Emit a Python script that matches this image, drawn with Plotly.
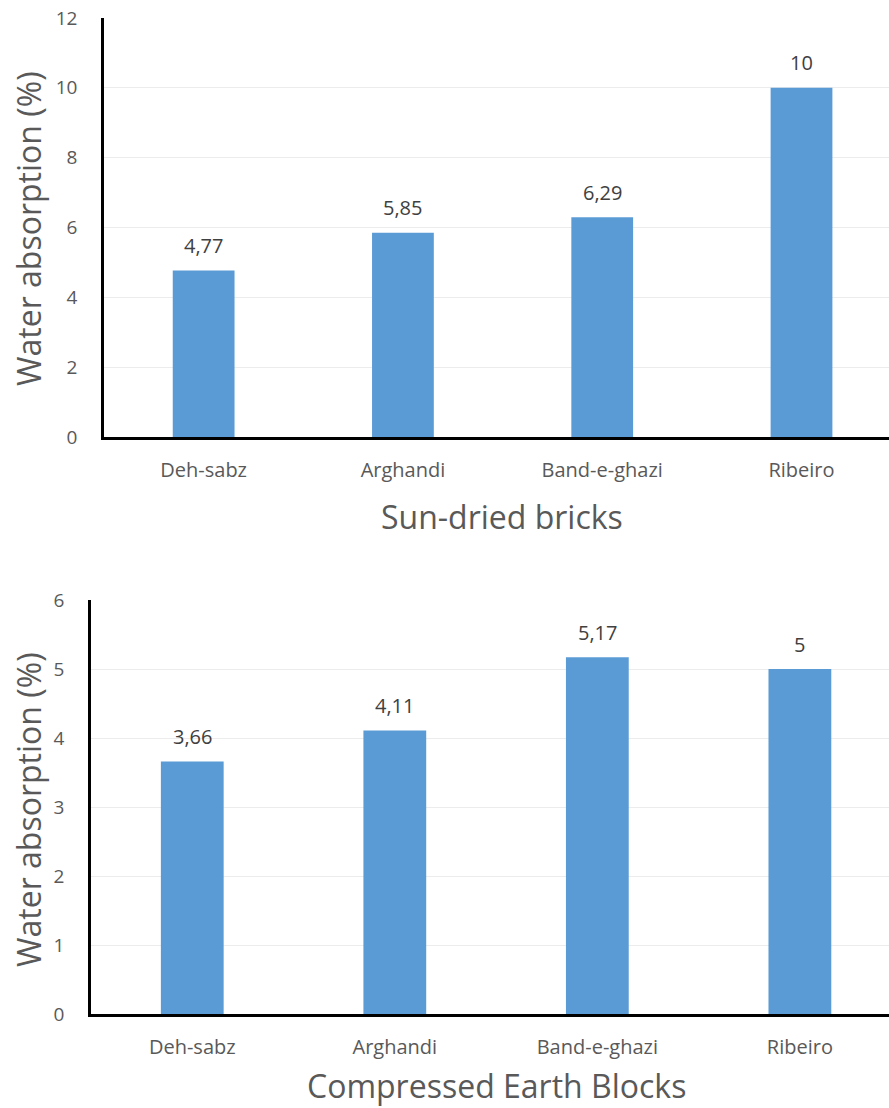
import plotly.graph_objects as go
from plotly.subplots import make_subplots

categories = ["Deh-sabz", "Arghandi", "Band-e-ghazi", "Ribeiro"]
sun_dried = [4.77, 5.85, 6.29, 10]
ceb = [3.66, 4.11, 5.17, 5]
y_title = "Water absorption (%)"
top_title = "Sun-dried bricks"
bottom_title = "Compressed Earth Blocks"

W, H = 889, 1108
BAR = "#5B9BD5"
FONT = "Open Sans"

def fmt(v):
    return f"{v:g}".replace(".", ",")

fig = make_subplots(rows=2, cols=1)
fig.add_trace(go.Bar(x=categories, y=sun_dried, marker_color=BAR, width=0.31,
                     marker_line_width=0), row=1, col=1)
fig.add_trace(go.Bar(x=categories, y=ceb, marker_color=BAR, width=0.31,
                     marker_line_width=0), row=2, col=1)

for xr, yr, vals in (("x", "y", sun_dried), ("x2", "y2", ceb)):
    for c, v in zip(categories, vals):
        fig.add_annotation(x=c, y=v, xref=xr, yref=yr, text=fmt(v), showarrow=False,
                           xanchor="center", yanchor="middle", yshift=25,
                           font=dict(size=20, color="#404040", family=FONT))

def py(p):
    return 1 - p / H

common_x = dict(showline=True, linecolor="black", linewidth=2.5, showgrid=False,
                tickfont=dict(size=20, color="#595959", family=FONT), ticks="",
                ticklabelstandoff=13, automargin=False, fixedrange=True)
common_y = dict(showline=True, linecolor="black", linewidth=2.5, showgrid=True,
                gridcolor="#ececec", gridwidth=1, zeroline=False,
                tickfont=dict(size=19, color="#595959", family=FONT), ticks="",
                ticklabelstandoff=20, automargin=False, fixedrange=True)

fig.update_layout(
    xaxis=dict(domain=[104 / W, 1], range=[-0.5, 3.439], **common_x),
    yaxis=dict(domain=[py(437), py(18)], range=[0, 12], dtick=2, **common_y),
    xaxis2=dict(domain=[91 / W, 1], range=[-0.5, 3.44], **common_x),
    yaxis2=dict(domain=[py(1014), py(600)], range=[0, 6], dtick=1, **common_y),
)

annots = [
    dict(text=y_title, x=28 / W, y=py(229), textangle=-90),
    dict(text=top_title, x=502 / W, y=py(516), textangle=0),
    dict(text=y_title, x=28 / W, y=py(810), textangle=-90),
    dict(text=bottom_title, x=496 / W, y=py(1085), textangle=0),
]
for a in annots:
    fig.add_annotation(xref="paper", yref="paper", showarrow=False,
                       xanchor="center", yanchor="middle",
                       font=dict(size=32, color="#595959", family=FONT), **a)

fig.update_layout(width=W, height=H, margin=dict(l=0, r=0, t=0, b=0),
                  paper_bgcolor="white", plot_bgcolor="white", showlegend=False)
fig.write_html("out.html", config={"displayModeBar": False},
               post_script="document.body.style.margin='0';document.body.style.padding='0';")
